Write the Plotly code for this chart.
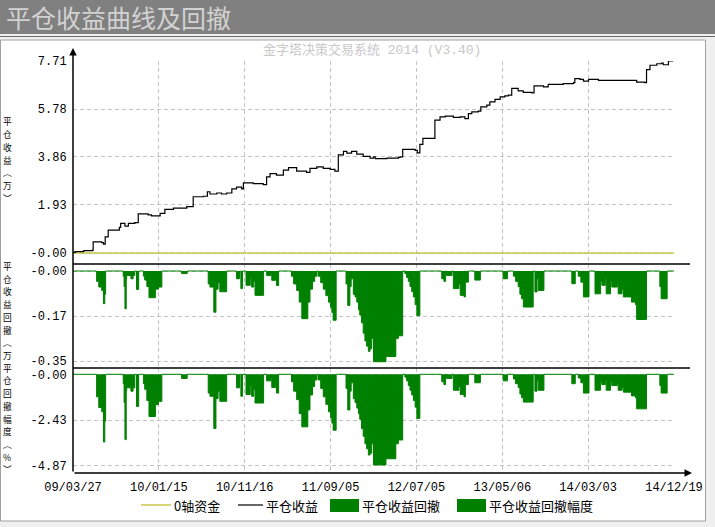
import plotly.graph_objects as go

W, H = 715, 527
def X(px):
    return px / W
def Y(py):
    return 1 - py / H

# ---------------- data ----------------
x_tick_vals = [0, 200, 400, 600, 800, 1000, 1200, 1400]
x_tick_labels = ["09/03/27", "10/01/15", "10/11/16", "11/09/05",
                 "12/07/05", "13/05/06", "14/03/03", "14/12/19"]

zero_axis_x = [0, 1400]
zero_axis_y = [0.0, 0.0]

eq_idx = [0, 5, 25, 46, 47, 67, 71, 75, 82, 102, 108, 111, 121, 129, 144, 152, 175, 183,
          203, 214, 234, 265, 280, 304, 313, 319, 335, 346, 358, 370, 381, 393, 397, 420,
          443, 451, 459, 474, 490, 502, 521, 544, 552, 568, 583, 599, 610, 618, 630, 638,
          649, 661, 676, 692, 700, 704, 731, 758, 762, 768, 797, 802, 808, 815, 839, 843,
          855, 867, 886, 902, 913, 921, 929, 944, 950, 964, 971, 983, 995, 1006, 1014, 1022,
          1037, 1049, 1069, 1074, 1096, 1107, 1142, 1166, 1169, 1181, 1189, 1201, 1212, 1224,
          1255, 1282, 1313, 1332, 1336, 1344, 1360, 1371, 1375, 1387, 1398]
eq_val = [0.03, 0.06, 0.10, 0.12, 0.45, 0.42, 0.36, 0.65, 0.92, 0.92, 1.03, 1.19, 1.08, 1.19, 1.22, 1.57, 1.53, 1.49,
          1.59, 1.75, 1.80, 1.86, 2.26, 2.28, 2.46, 2.37, 2.41, 2.37, 2.41, 2.58, 2.65, 2.58, 2.82, 2.79,
          2.75, 3.06, 3.19, 3.13, 3.33, 3.43, 3.29, 3.24, 3.40, 3.46, 3.40, 3.36, 3.29, 3.94, 4.08, 4.01,
          4.08, 3.97, 3.88, 3.81, 3.86, 3.79, 3.81, 3.84, 3.86, 4.16, 4.12, 4.02, 4.36, 4.60, 4.60, 5.34,
          5.47, 5.50, 5.45, 5.47, 5.40, 5.60, 5.67, 5.70, 5.87, 5.94, 6.07, 6.17, 6.27, 6.31, 6.34, 6.61,
          6.51, 6.45, 6.43, 6.71, 6.67, 6.77, 6.80, 6.84, 7.00, 6.97, 6.90, 6.97, 6.97, 6.93,
          6.93, 6.93, 6.86, 6.84, 7.36, 7.54, 7.60, 7.63, 7.56, 7.71, 7.71]

dd_idx = [0,
          55, 60, 67, 71, 74, 76,
          117, 119, 121, 124, 125, 135, 140, 144,
          148, 153,
          164, 167, 172, 177, 192, 199, 207,
          253, 266,
          315, 319, 328, 333, 338, 342, 358,
          381, 388, 391, 395,
          403, 413, 416, 421, 424, 444,
          451, 461, 463, 472, 474, 479,
          509, 514, 521, 527, 533, 547, 552, 558, 563, 568,
          571, 577, 583, 589, 595, 600, 603, 606, 613,
          636, 640, 645, 648, 653, 657, 661, 665, 668, 672, 676, 680, 684, 688, 692, 696, 700, 729, 752, 758, 768,
          773, 777, 781, 785, 789, 793, 797, 801, 808,
          859, 864, 868, 870, 883, 886, 899, 902, 911, 914, 921,
          936, 949,
          1002, 1012,
          1026, 1031, 1037, 1041, 1045, 1049, 1072,
          1076, 1081, 1084, 1097,
          1162, 1170,
          1177, 1183, 1189, 1202,
          1216, 1229, 1232, 1240, 1242, 1252, 1255, 1268, 1270, 1279, 1282, 1299, 1301, 1310, 1313, 1336,
          1367, 1370, 1384, 1400]
dd_wan = [0,
          -0.04, -0.062, -0.075, -0.126, -0.09, 0,
          -0.02, -0.06, -0.146, -0.03, -0.017, -0.03, -0.017, 0,
          -0.071, 0,
          -0.02, -0.035, -0.06, -0.103, -0.07, -0.062, 0,
          -0.01, 0,
          -0.05, -0.062, -0.159, -0.07, -0.045, -0.08, 0,
          -0.03, 0, -0.068, 0,
          -0.055, -0.03, -0.062, -0.04, -0.094, 0,
          -0.017, -0.01, -0.036, -0.02, -0.056, 0,
          -0.02, -0.05, -0.075, -0.12, -0.184, -0.12, -0.07, -0.04, -0.02, 0,
          -0.02, -0.045, -0.07, -0.095, -0.12, -0.14, -0.16, -0.19, 0,
          -0.05, -0.133, -0.06, -0.03, -0.09, -0.1, -0.12, -0.15, -0.17, -0.2, -0.24, -0.27, -0.29, -0.31, -0.30, -0.26, -0.35, -0.33, -0.26, -0.25, 0,
          -0.01, -0.025, -0.04, -0.06, -0.08, -0.1, -0.13, -0.172, 0,
          -0.03, -0.04, 0, -0.017, 0, -0.068, -0.05, -0.094, -0.1, -0.043, 0,
          -0.035, 0,
          -0.03, 0,
          -0.02, -0.04, -0.06, -0.09, -0.107, -0.139, 0,
          -0.081, -0.03, -0.075, 0,
          -0.049, 0,
          -0.02, -0.043, -0.1, 0,
          -0.088, -0.04, -0.055, -0.03, -0.088, -0.04, -0.062, -0.05, -0.088, -0.07, -0.1, -0.1, -0.12, -0.13, -0.187, 0,
          -0.06, -0.107, 0, 0]
dd_pct = [0,
          -1.2, -1.77, -2.0, -3.61, -2.5, 0,
          -0.5, -1.5, -3.48, -0.9, -0.72, -0.9, -0.72, 0,
          -1.71, 0,
          -0.5, -0.8, -1.4, -2.25, -1.62, -1.44, 0,
          -0.22, 0,
          -1.0, -1.17, -2.89, -1.3, -0.9, -1.44, 0,
          -0.72, 0, -1.17, 0,
          -1.08, -0.6, -1.17, -0.8, -1.53, 0,
          -0.35, -0.2, -0.7, -0.4, -1.0, 0,
          -0.4, -0.9, -1.35, -2.1, -2.8, -1.9, -1.1, -0.65, -0.3, 0,
          -0.3, -0.75, -1.2, -1.6, -2.0, -2.3, -2.6, -2.98, 0,
          -0.75, -1.9, -0.9, -0.45, -1.3, -1.5, -1.8, -2.1, -2.4, -2.9, -3.3, -3.7, -3.97, -4.3, -4.2, -3.7, -4.83, -4.5, -3.7, -3.5, 0,
          -0.15, -0.35, -0.6, -0.85, -1.1, -1.4, -1.75, -2.35, 0,
          -0.4, -0.55, 0, -0.22, 0, -0.85, -0.65, -1.08, -1.2, -0.55, 0,
          -0.45, 0,
          -0.35, 0,
          -0.25, -0.5, -0.7, -1.05, -1.25, -1.48, 0,
          -0.9, -0.35, -0.85, 0,
          -0.5, 0,
          -0.2, -0.45, -1.0, 0,
          -0.85, -0.4, -0.55, -0.3, -0.85, -0.4, -0.6, -0.5, -0.85, -0.7, -0.95, -0.95, -1.15, -1.25, -1.84, 0,
          -0.6, -1.0, 0, 0]

y1_ticks = [0, 1.93, 3.86, 5.78, 7.71]
y1_labels = ["-0.00", "1.93", "3.86", "5.78", "7.71"]
y2_ticks = [0, -0.174, -0.348]
y2_labels = ["-0.00", "-0.17", "-0.35"]
y3_ticks = [0, -2.435, -4.87]
y3_labels = ["-0.00", "-2.43", "-4.87"]

y1_title = "平仓收益︵万︶"
y2_title = "平仓收益回撤︵万"
y3_title = "平仓回撤幅度︵%︶"

# ---------------- styles ----------------
GREEN = "#008000"
YELLOW = "#c8c848"
GRID = "#c4c4c4"
MONO = "Liberation Mono, Noto Sans CJK SC, monospace"
CJK = "Noto Sans CJK SC, sans-serif"

fig = go.Figure()
fig.add_trace(go.Scatter(x=zero_axis_x, y=zero_axis_y, mode="lines", name="0轴资金",
                         line=dict(color=YELLOW, width=1.5), xaxis="x", yaxis="y", hoverinfo="skip"))
fig.add_trace(go.Scatter(x=eq_idx, y=eq_val, mode="lines", name="平仓收益",
                         line=dict(color="black", width=1.2, shape="hv"), xaxis="x", yaxis="y"))
fig.add_trace(go.Scatter(x=dd_idx, y=dd_wan, mode="lines", name="平仓收益回撤", fill="tozeroy",
                         fillcolor=GREEN, line=dict(color=GREEN, width=1, shape="hv"),
                         xaxis="x2", yaxis="y2"))
fig.add_trace(go.Scatter(x=dd_idx, y=dd_pct, mode="lines", name="平仓收益回撤幅度", fill="tozeroy",
                         fillcolor=GREEN, line=dict(color=GREEN, width=1, shape="hv"),
                         xaxis="x3", yaxis="y3"))

xdom = [X(73), X(674)]
xcommon = dict(domain=xdom, range=[0, 1400], tickvals=x_tick_vals, ticktext=x_tick_labels,
               showgrid=True, gridcolor=GRID, griddash="4px,3px", gridwidth=1,
               zeroline=False, showline=False, automargin=False, fixedrange=True,
               ticks="outside", ticklen=3, tickcolor="rgba(0,0,0,0)",
               tickfont=dict(family=MONO, size=12, color="black"))
ycommon = dict(showgrid=True, gridcolor=GRID, griddash="4px,3px", gridwidth=1,
               zeroline=False, showline=False, automargin=False, fixedrange=True,
               ticks="outside", ticklen=3, tickcolor="rgba(0,0,0,0)",
               tickfont=dict(family=MONO, size=12, color="black"))

layout = dict(
    width=W, height=H, autosize=False,
    margin=dict(l=0, r=0, t=0, b=0, pad=0),
    paper_bgcolor="#f0f0f0", plot_bgcolor="rgba(0,0,0,0)",
    showlegend=False,
    template="none",
    font=dict(family=MONO, size=12, color="black"),
    xaxis=dict(xcommon, anchor="y", showticklabels=False),
    xaxis2=dict(xcommon, anchor="y2", showticklabels=False, matches="x"),
    xaxis3=dict(xcommon, anchor="y3", showticklabels=True, matches="x"),
    yaxis=dict(ycommon, domain=[Y(264), Y(61)], range=[-0.44, 7.71], anchor="x",
               tickvals=y1_ticks, ticktext=y1_labels),
    yaxis2=dict(ycommon, domain=[Y(368), Y(264)], range=[-0.3743, 0.027], anchor="x2",
                tickvals=y2_ticks, ticktext=y2_labels),
    yaxis3=dict(ycommon, domain=[Y(473), Y(368)], range=[-5.259, 0.336], anchor="x3",
                tickvals=y3_ticks, ticktext=y3_labels),
)
fig.update_layout(**layout)

shapes = []
# title bar and panel
shapes.append(dict(type="rect", xref="paper", yref="paper", x0=0, x1=1, y0=Y(34), y1=1,
                   fillcolor="#808080", line=dict(width=0), layer="below"))
shapes.append(dict(type="line", xref="paper", yref="paper", x0=0, x1=1, y0=Y(36.5), y1=Y(36.5),
                   line=dict(color="#6a6a6a", width=1), layer="below"))
shapes.append(dict(type="rect", xref="paper", yref="paper", x0=X(0.5), x1=X(705.5), y0=Y(521), y1=Y(40),
                   fillcolor="white", line=dict(color="#a0a0a0", width=1), layer="below"))
# panel separators
for py in (264, 368):
    shapes.append(dict(type="line", xref="paper", yref="paper", x0=X(73), x1=X(690), y0=Y(py), y1=Y(py),
                       line=dict(color="black", width=1.5), layer="above"))
# legend symbols
shapes.append(dict(type="line", xref="paper", yref="paper", x0=X(141), x1=X(171), y0=Y(505), y1=Y(505),
                   line=dict(color=YELLOW, width=1.5)))
shapes.append(dict(type="line", xref="paper", yref="paper", x0=X(238), x1=X(263), y0=Y(505), y1=Y(505),
                   line=dict(color="black", width=1.2)))
shapes.append(dict(type="rect", xref="paper", yref="paper", x0=X(330), x1=X(359), y0=Y(512), y1=Y(499),
                   fillcolor=GREEN, line=dict(width=0)))
shapes.append(dict(type="rect", xref="paper", yref="paper", x0=X(457), x1=X(486), y0=Y(512), y1=Y(499),
                   fillcolor=GREEN, line=dict(width=0)))
fig.update_layout(shapes=shapes)

ann = []
# axis lines with arrows (tail given as pixel offsets from the head)
ann.append(dict(x=X(73), y=Y(48), ax=0, ay=473 - 48, xref="paper", yref="paper",
                axref="pixel", ayref="pixel", text="", showarrow=True, arrowhead=2,
                arrowsize=1, arrowwidth=1.5, arrowcolor="black"))
ann.append(dict(x=X(692), y=Y(473), ax=73 - 692, ay=0, xref="paper", yref="paper",
                axref="pixel", ayref="pixel", text="", showarrow=True, arrowhead=2,
                arrowsize=1, arrowwidth=1.5, arrowcolor="black"))
# title
ann.append(dict(x=X(4), y=Y(17), xref="paper", yref="paper", xanchor="left", yanchor="middle",
                text="平仓收益曲线及回撤", showarrow=False,
                font=dict(family=CJK, size=25, color="#d2d2d2")))
# watermark
ann.append(dict(x=X(372), y=Y(50), xref="paper", yref="paper", xanchor="center", yanchor="middle",
                text="金字塔决策交易系统 2014 (V3.40)", showarrow=False,
                font=dict(family=MONO, size=13, color="#c8c8c8")))
# vertical (stacked) axis titles, one glyph per row
STEP = 12.7
def stacked(txt, center_py):
    n = len(txt)
    first = center_py - (n - 1) / 2 * STEP
    for i, ch in enumerate(txt):
        ann.append(dict(x=X(7), y=Y(first + i * STEP), xref="paper", yref="paper",
                        xanchor="center", yanchor="middle", text=ch, showarrow=False,
                        font=dict(family=CJK, size=8.7, color="black")))
stacked(y1_title, 160)
stacked(y2_title, 311)
stacked(y3_title, 419)
# legend texts
for xpx, txt in ((172, "0轴资金"), (264, "平仓收益"), (360, "平仓收益回撤"), (487, "平仓收益回撤幅度")):
    ann.append(dict(x=X(xpx), y=Y(505), xref="paper", yref="paper", xanchor="left", yanchor="middle",
                    text=txt, showarrow=False, font=dict(family=CJK, size=13, color="black")))
fig.update_layout(annotations=ann)

fig.write_html("out.html", config={"displayModeBar": False, "staticPlot": True},
               post_script="document.body.style.margin='0';document.body.style.overflow='hidden';")
